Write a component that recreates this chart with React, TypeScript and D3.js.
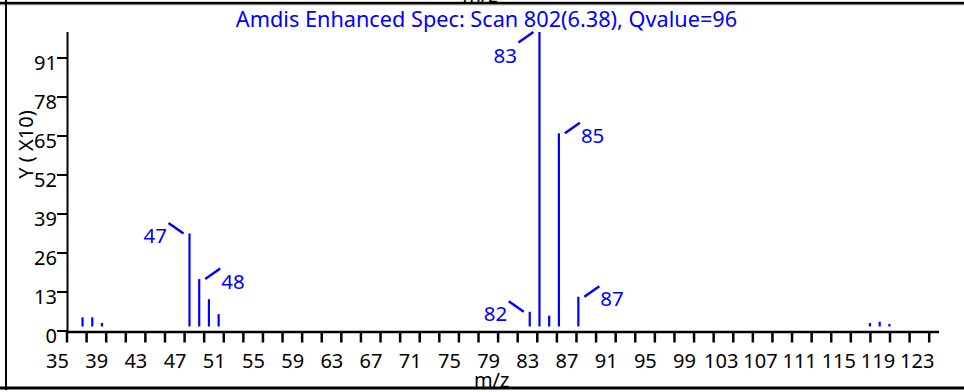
import React from "react";
import * as d3 from "d3";

// ---- data ----
const mzValues = [36, 37, 38, 47, 48, 49, 50, 82, 83, 84, 85, 87, 117, 118, 119];
const intensities = [3.1, 3.1, 1.2, 31.6, 16.1, 9.3, 4.2, 5.0, 100, 3.7, 65.6, 10.1, 1.2, 1.6, 0.85];
const labeledMz = [47, 48, 82, 83, 85, 87];
const labelSides = ["left", "right", "left", "left", "right", "right"];
const xMinorTicks = d3.range(35, 124, 2);
const xTickLabels = d3.range(35, 124, 4);
const yTickLabels = [0, 13, 26, 39, 52, 65, 78, 91];
const titleText = "Amdis Enhanced Spec: Scan 802(6.38), Qvalue=96";
const xTitle = "m/z";
const yTitle = "Y ( X10)";

const W = 964;
const H = 392;
const FONT = "'Noto Sans', 'Open Sans', sans-serif";
const BLUE = "#0000ff";

export default function App() {
  // data scales (peaks)
  const xData = d3.scaleLinear().domain([34.4, 124.1]).range([67, 939]);
  const yData = d3.scaleLinear().domain([0, 100]).range([326.5, 32]);
  // axis scales (tick marks)
  const xAxis = d3.scaleLinear().domain([35, 124]).range([67, 939]);
  const yAxis = d3.scaleLinear().domain([0, 100]).range([331, 31]);

  const peaks = mzValues.map((mz, i) => ({ mz, v: intensities[i] }));

  return (
    <svg
      width={W}
      height={H}
      style={{ position: "absolute", left: 0, top: 0, background: "#fff" }}
      fontFamily={FONT}
    >
      {/* clipped x title of the chart above */}
      <text x={480} y={2} fontSize={20} textAnchor="middle" fill="#000">
        {xTitle}
      </text>
      <rect x={0} y={1.8} width={W} height={2.8} fill="#000" />
      <line x1={0} x2={W} y1={5.2} y2={5.2} stroke="#d0d0d0" strokeWidth={1} />

      {/* left border */}
      <rect x={5} y={0} width={2} height={390} fill="#000" />

      {/* title */}
      <text x={486.5} y={27} fontSize={21.7} textAnchor="middle" fill={BLUE}>
        {titleText}
      </text>

      {/* y axis */}
      <line x1={67.5} x2={67.5} y1={32} y2={333} stroke="#000" strokeWidth={2} />
      {yTickLabels.map((t) => (
        <g key={"yt" + t}>
          <line x1={57} x2={67} y1={yAxis(t)} y2={yAxis(t)} stroke="#000" strokeWidth={2} />
          <text x={57} y={yAxis(t) + 12} fontSize={20} textAnchor="end" fill="#000">
            {t}
          </text>
        </g>
      ))}
      <text
        transform={`translate(33,144.5) rotate(-90)`}
        fontSize={20}
        textAnchor="middle"
        fill="#000"
      >
        {yTitle}
      </text>

      {/* x axis */}
      <line x1={67} x2={939} y1={332} y2={332} stroke="#000" strokeWidth={2.5} />
      {xMinorTicks.map((t) => (
        <line
          key={"xt" + t}
          x1={xAxis(t)}
          x2={xAxis(t)}
          y1={332}
          y2={342.5}
          stroke="#000"
          strokeWidth={2.5}
        />
      ))}
      {xTickLabels.map((t) => {
        const s = String(t);
        const off = s.length === 3 ? -12 : -9.5;
        return (
          <text
            key={"xl" + t}
            x={xAxis(t) + off}
            y={368.3}
            fontSize={20}
            textAnchor="middle"
            fill="#000"
          >
            {s}
          </text>
        );
      })}
      <text x={491.7} y={387.2} fontSize={20} textAnchor="middle" fill="#000">
        {xTitle}
      </text>

      {/* peaks */}
      {peaks.map((p) => (
        <line
          key={"p" + p.mz}
          x1={xData(p.mz)}
          x2={xData(p.mz)}
          y1={yData(0)}
          y2={yData(p.v)}
          stroke={BLUE}
          strokeWidth={2.2}
        />
      ))}

      {/* peak labels */}
      {labeledMz.map((mz, i) => {
        const idx = mzValues.indexOf(mz);
        const bx = xData(mz);
        const top = yData(intensities[idx]);
        const side = labelSides[i];
        const dir = side === "left" ? -1 : 1;
        const flip = top - 10.5 < 35 ? 1 : -1;
        const sx = bx + dir * 6;
        const sy = top;
        const ex = bx + dir * 21;
        const ey = top + flip * 10.5;
        return (
          <g key={"lab" + mz}>
            <line x1={sx} y1={sy} x2={ex} y2={ey} stroke={BLUE} strokeWidth={2.5} />
            <text
              x={side === "left" ? ex - 1.5 : ex + 1}
              y={ey + 20}
              fontSize={20.5}
              textAnchor={side === "left" ? "end" : "start"}
              fill={BLUE}
            >
              {mz}
            </text>
          </g>
        );
      })}

      {/* bottom border */}
      <rect x={0} y={386.5} width={W} height={3} fill="#000" />
    </svg>
  );
}
